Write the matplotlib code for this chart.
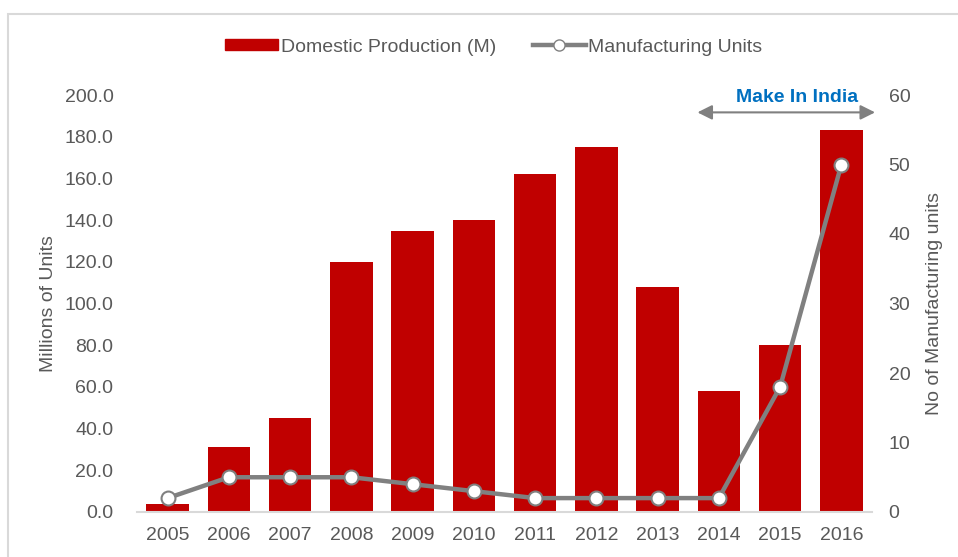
import matplotlib
matplotlib.use('Agg')
import matplotlib.pyplot as plt
from matplotlib.patches import Rectangle
from matplotlib.lines import Line2D

plt.rcParams['font.family'] = ['Liberation Sans', 'DejaVu Sans']

years = ['2005', '2006', '2007', '2008', '2009', '2010',
         '2011', '2012', '2013', '2014', '2015', '2016']
production = [4, 31, 45, 120, 135, 140, 162, 175, 108, 58, 80, 183]
units = [2, 5, 5, 5, 4, 3, 2, 2, 2, 2, 18, 50]
left_ticks = [0, 20, 40, 60, 80, 100, 120, 140, 160, 180, 200]
right_ticks = [0, 10, 20, 30, 40, 50, 60]

RED = '#C00000'
GREY = '#808080'
TXT = '#595959'
FS = 14

fig = plt.figure(figsize=(9.58, 5.57), dpi=100)
ax = fig.add_axes([137 / 958, 45 / 557, 735 / 958, 417 / 557])
ax2 = ax.twinx()

x = list(range(len(years)))
ax.bar(x, production, width=0.69, color=RED, zorder=2)
ax2.plot(x, units, color=GREY, lw=3.2, marker='o', ms=10,
         mfc='white', mec=GREY, mew=1.5, zorder=3)

ax.set_xlim(-0.5, len(years) - 0.5)
ax.set_ylim(0, 200)
ax2.set_ylim(0, 60)
ax.set_xticks(x)
ax.set_xticklabels(years)
ax.set_yticks(left_ticks)
ax.set_yticklabels([f'{v:.1f}' for v in left_ticks])
ax2.set_yticks(right_ticks)

for a in (ax, ax2):
    for s in a.spines.values():
        s.set_visible(False)
    a.tick_params(length=0, labelsize=FS, colors=TXT)
ax.spines['bottom'].set_visible(True)
ax.spines['bottom'].set_color('#D9D9D9')
ax.spines['bottom'].set_linewidth(1.5)
ax.tick_params(axis='x', pad=11)
ax.tick_params(axis='y', pad=17)
ax2.tick_params(axis='y', pad=12)

ax.set_ylabel('Millions of Units', fontsize=FS, color=TXT, labelpad=5)
ax2.set_ylabel('No of Manufacturing units', fontsize=FS, color=TXT, labelpad=11)

ax.set_zorder(ax2.get_zorder() - 1)
ax2.patch.set_visible(False)

# Make In India annotation
ax2.annotate('', xy=(11.55, 57.5), xytext=(8.65, 57.5),
             arrowprops=dict(arrowstyle='<|-|>', color=GREY, lw=1.5,
                             mutation_scale=22, shrinkA=0, shrinkB=0),
             annotation_clip=False)
ax2.text(10.27, 59.7, 'Make In India', color='#0070C0', fontsize=FS,
         fontweight='bold', ha='center', va='center')

# legend
handles = [Rectangle((0, 0), 1, 1, color=RED),
           Line2D([0], [0], color=GREY, lw=3.2, marker='o', ms=8,
                  mfc='white', mec=GREY)]
fig.legend(handles, ['Domestic Production (M)', 'Manufacturing Units'],
           loc='center', bbox_to_anchor=(494 / 958, 1 - 47 / 557), ncol=2,
           frameon=False, fontsize=FS, labelcolor=TXT, handlelength=2.7,
           handleheight=0.55, handletextpad=0.15, columnspacing=1.9)

# outer chart border
fig.add_artist(Rectangle((8 / 958, -0.1), 1.1, 1 - 14 / 557 + 0.1,
                         transform=fig.transFigure, fill=False,
                         ec='#D9D9D9', lw=1.5))

fig.savefig('out.png', dpi=100)
